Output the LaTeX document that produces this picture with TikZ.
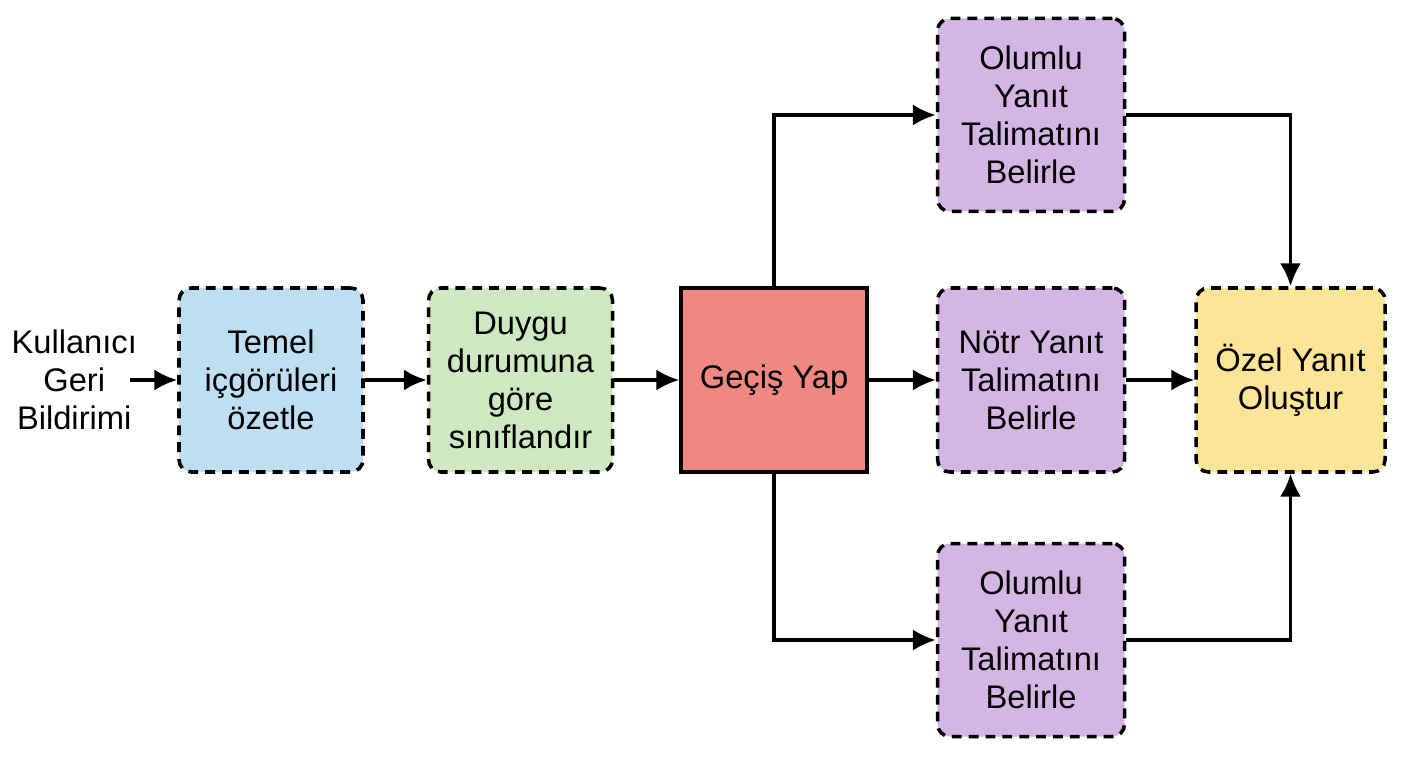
\documentclass[tikz,border=0pt]{standalone}
\usepackage{fontspec}
\setmainfont{Liberation Sans}
\usetikzlibrary{arrows.meta,positioning}

\definecolor{kutumavi}{RGB}{190,222,241}
\definecolor{kutuyesil}{RGB}{206,232,194}
\definecolor{kutukirmizi}{RGB}{240,136,130}
\definecolor{kutumor}{RGB}{212,182,228}
\definecolor{kutusari}{RGB}{253,229,152}

\begin{document}
\begin{tikzpicture}[
    font=\fontsize{18.6}{21.6}\selectfont,
    box/.style={draw, line width=2pt, dash pattern=on 5.6pt off 4pt, rounded corners=7pt,
      align=center, minimum height=3.68cm, minimum width=3.68cm},
    solidbox/.style={draw, line width=2pt, align=center, minimum height=3.68cm, minimum width=3.72cm},
    arrow/.style={-{Latex[length=13pt,width=12pt]}, line width=2pt}
  ]
    \useasboundingbox (0,0) rectangle (28.16,-15.36);
    \node[box, fill=kutumavi] (temel) at (5.42,-7.6) {Temel\\içgörüleri\\özetle};
    \node[align=center, inner sep=0pt, left=0.8cm of temel] (kullanici) {Kullanıcı\\Geri\\Bildirimi};
    \node[box, fill=kutuyesil, right=1.24cm of temel] (duygu) {Duygu\\durumuna\\göre\\sınıflandır};
    \node[solidbox, fill=kutukirmizi, right=1.3cm of duygu] (gecis) {Geçiş Yap};
    \node[box, fill=kutumor, minimum width=3.74cm, right=1.34cm of gecis] (notr) {Nötr Yanıt\\Talimatını\\Belirle};
    \node[box, fill=kutumor, minimum width=3.74cm, minimum height=3.86cm, above=1.46cm of notr] (olumluust) {Olumlu\\Yanıt\\Talimatını\\Belirle};
    \node[box, fill=kutumor, minimum width=3.74cm, minimum height=3.86cm, below=1.36cm of notr] (olumlualt) {Olumlu\\Yanıt\\Talimatını\\Belirle};
    \node[box, fill=kutusari, minimum width=3.78cm, right=1.36cm of notr] (ozel) {Özel Yanıt\\Oluştur};
    \draw[arrow] ([xshift=-0.14cm]kullanici.east) -- (temel);
    \draw[arrow] (temel) -- (duygu);
    \draw[arrow] (duygu) -- (gecis);
    \draw[arrow] (gecis) -- (notr);
    \draw[arrow] (gecis.north) |- (olumluust.west);
    \draw[arrow] (gecis.south) |- (olumlualt.west);
    \draw[arrow] (notr) -- (ozel);
    \draw[arrow] (olumluust.east) -| (ozel.north);
    \draw[arrow] (olumlualt.east) -| (ozel.south);
  \end{tikzpicture}
\end{document}
